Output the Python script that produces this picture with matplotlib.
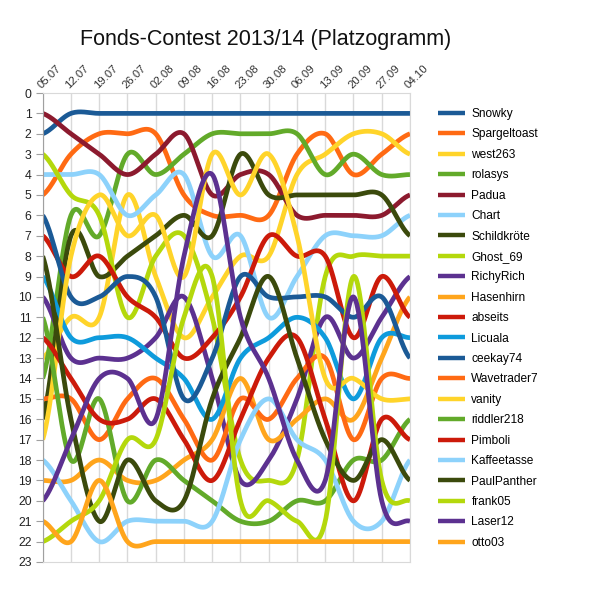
import numpy as np
import matplotlib
matplotlib.use("Agg")
import matplotlib.pyplot as plt

plt.rcParams['font.family'] = ['Liberation Sans', 'DejaVu Sans']

dates = ["05.07", "12.07", "19.07", "26.07", "02.08", "09.08", "16.08",
         "23.08", "30.08", "06.09", "13.09", "20.09", "27.09", "04.10"]

names = ["Snowky", "Spargeltoast", "west263", "rolasys", "Padua", "Chart",
         "Schildkröte", "Ghost_69", "RichyRich", "Hasenhirn", "abseits",
         "Licuala", "ceekay74", "Wavetrader7", "vanity", "riddler218",
         "Pimboli", "Kaffeetasse", "PaulPanther", "frank05", "Laser12", "otto03"]

Snowky       = [2, 1, 1, 1, 1, 1, 1, 1, 1, 1, 1, 1, 1, 1]
Spargeltoast = [5, 3, 2, 2, 2, 5, 6, 6, 6, 3, 2, 4, 3, 2]
west263      = [13, 11, 11, 5, 9, 12, 10, 8, 8, 4, 3, 2, 2, 3]
rolasys      = [14, 6, 7, 3, 4, 3, 2, 2, 2, 2, 4, 3, 4, 4]
Padua        = [1, 2, 3, 4, 3, 2, 5, 4, 4, 6, 6, 6, 6, 5]
Chart        = [4, 4, 4, 6, 5, 4, 8, 7, 11, 9, 7, 7, 7, 6]
Schildkroete = [16, 7, 9, 8, 7, 6, 7, 3, 5, 5, 5, 5, 5, 7]
Ghost_69     = [3, 5, 6, 11, 8, 7, 11, 18, 19, 18, 9, 8, 8, 8]
RichyRich    = [10, 13, 13, 13, 12, 10, 14, 19, 18, 15, 11, 13, 11, 9]
Hasenhirn    = [19, 19, 18, 19, 19, 18, 17, 14, 17, 16, 15, 16, 13, 10]
abseits      = [7, 9, 8, 10, 11, 13, 12, 10, 7, 8, 8, 12, 9, 11]
Licuala      = [9, 12, 12, 12, 13, 14, 16, 13, 12, 11, 12, 15, 12, 12]
ceekay74     = [6, 10, 10, 9, 10, 15, 13, 9, 10, 10, 10, 11, 10, 13]
Wavetrader7  = [15, 15, 17, 15, 14, 16, 18, 15, 16, 14, 13, 17, 14, 14]
vanity       = [17, 8, 5, 7, 6, 9, 3, 5, 3, 7, 14, 14, 15, 15]
riddler218   = [11, 18, 15, 20, 18, 19, 20, 21, 21, 20, 20, 18, 18, 16]
Pimboli      = [12, 14, 16, 16, 15, 17, 19, 16, 13, 12, 16, 20, 16, 17]
Kaffeetasse  = [18, 20, 22, 21, 21, 21, 21, 17, 15, 17, 18, 21, 21, 18]
PaulPanther  = [8, 16, 21, 18, 20, 20, 15, 12, 9, 13, 17, 19, 17, 19]
frank05      = [22, 21, 20, 17, 17, 11, 9, 20, 20, 21, 21, 9, 19, 20]
Laser12      = [20, 17, 14, 14, 16, 8, 4, 11, 14, 18, 19, 10, 20, 21]
otto03       = [21, 22, 19, 22, 22, 22, 22, 22, 22, 22, 22, 22, 22, 22]

series = [Snowky, Spargeltoast, west263, rolasys, Padua, Chart, Schildkroete,
          Ghost_69, RichyRich, Hasenhirn, abseits, Licuala, ceekay74,
          Wavetrader7, vanity, riddler218, Pimboli, Kaffeetasse, PaulPanther,
          frank05, Laser12, otto03]

palette = ["#1B5A96", "#FF6A13", "#FFD42A", "#62AA2A", "#8C1A2E", "#8DD2FB",
           "#3B4A0C", "#B4D80C", "#5C3190", "#FFA51C", "#CC1A0A", "#0E9BDC"]
colors = [palette[0], palette[1], palette[2], palette[3], palette[4], palette[5],
          palette[6], palette[7], palette[8], palette[9], palette[10], palette[11],
          palette[0], palette[1], palette[2], palette[3], palette[10], palette[5],
          palette[6], palette[7], palette[8], palette[9]]


def smooth(vals, n=40):
    p = np.asarray(vals, dtype=float)
    ext = np.concatenate([[p[0]], p, [p[-1]]])
    xs, ys = [], []
    for i in range(len(p) - 1):
        p0, p1, p2, p3 = ext[i], ext[i + 1], ext[i + 2], ext[i + 3]
        m1 = (p2 - p0) / 2.0
        m2 = (p3 - p1) / 2.0
        t = np.linspace(0, 1, n, endpoint=False)
        h00 = 2 * t**3 - 3 * t**2 + 1
        h10 = t**3 - 2 * t**2 + t
        h01 = -2 * t**3 + 3 * t**2
        h11 = t**3 - t**2
        ys.append(h00 * p1 + h10 * m1 + h01 * p2 + h11 * m2)
        xs.append(i + t)
    xs.append([len(p) - 1])
    ys.append([p[-1]])
    return np.concatenate(xs), np.concatenate(ys)


fig = plt.figure(figsize=(6, 6), dpi=100)
ax = fig.add_axes([42.7 / 600, 1 - 562 / 600, (410 - 42.7) / 600, (562 - 93) / 600])

for nm, vals, c in zip(names, series, colors):
    xs, ys = smooth(vals)
    ax.plot(xs, ys, color=c, lw=3.4, solid_capstyle='butt', label=nm)

ax.set_xlim(0, len(dates) - 1)
ax.set_ylim(23, 0)
ax.set_yticks(range(0, 24))
ax.set_yticklabels([str(i) for i in range(0, 24)], fontsize=8.8, color='#222222')
ax.set_xticks(range(len(dates)))
ax.xaxis.tick_top()
ax.set_xticklabels(dates, rotation=45, ha='left', va='bottom',
                   rotation_mode='anchor', fontsize=8.2, color='#333333')
ax.tick_params(axis='x', length=0, pad=2)
ax.tick_params(axis='y', length=5, width=0.8, color='#A0A0A0', pad=3)
ax.grid(axis='x', color='#D9D9D9', lw=1.0)
ax.set_axisbelow(True)
for s in ['top', 'bottom', 'right']:
    ax.spines[s].set_color('#D9D9D9')
ax.spines['left'].set_color('#A0A0A0')

fig.text(266 / 600, 1 - 40 / 600, "Fonds-Contest 2013/14 (Platzogramm)",
         ha='center', va='center', fontsize=15.5, color='#111111')

leg = fig.legend(loc='upper left', bbox_to_anchor=(438 / 600, 1 - 108 / 600),
                 frameon=False, fontsize=8.6, handlelength=2.3, handletextpad=0.5,
                 labelspacing=0.705, borderpad=0, borderaxespad=0)
for line in leg.get_lines():
    line.set_linewidth(3.2)

fig.savefig("out.png", dpi=100)
